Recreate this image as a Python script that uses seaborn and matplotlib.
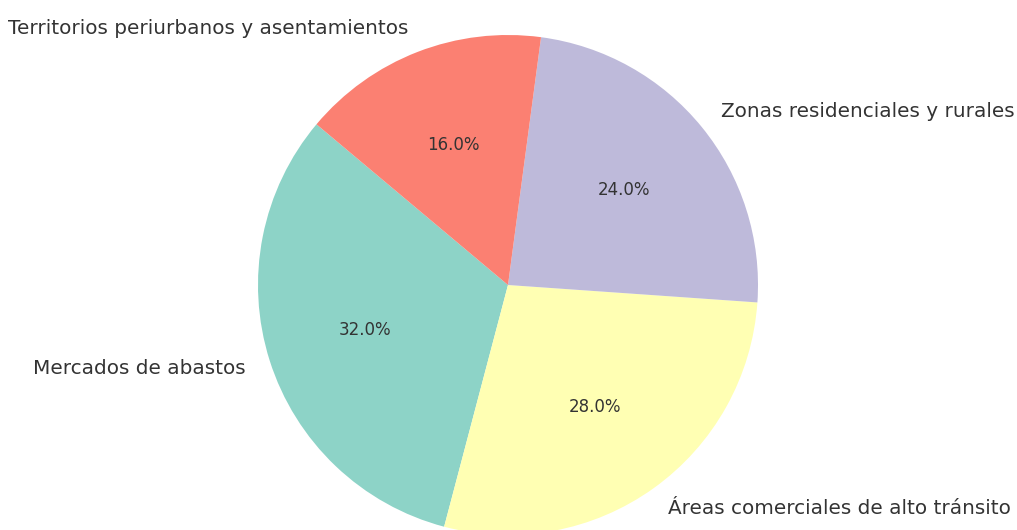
import matplotlib
matplotlib.use("Agg")
import matplotlib.pyplot as plt
import seaborn as sns

sns.set_theme(style="white")
plt.rcParams['font.family'] = ['DejaVu Sans']

categories = ["Mercados de abastos", "Áreas comerciales de alto tránsito",
              "Zonas residenciales y rurales", "Territorios periurbanos y asentamientos"]
shares = [32, 28, 24, 16]

colors = sns.color_palette("Set3", 4)

fig = plt.figure(figsize=(10.17, 5.3), dpi=100)
ax = fig.add_axes([0, 0, 1, 1])
wedges, texts, autotexts = ax.pie(
    shares, labels=categories, colors=colors, autopct="%1.1f%%",
    startangle=140, counterclock=True,
    wedgeprops={"linewidth": 0, "edgecolor": "none"},
    textprops={"fontsize": 14.4, "color": "#333333"})
for t in autotexts:
    t.set_fontsize(12)
    t.set_color("#333333")

r = 250.0
cx, cy = 508.0, 530 - 285.0
ax.set_aspect('auto')
ax.set_xlim(-cx / r, (1017 - cx) / r)
ax.set_ylim(-cy / r, (530 - cy) / r)
ax.axis('off')

fig.savefig("out.png", dpi=100)
